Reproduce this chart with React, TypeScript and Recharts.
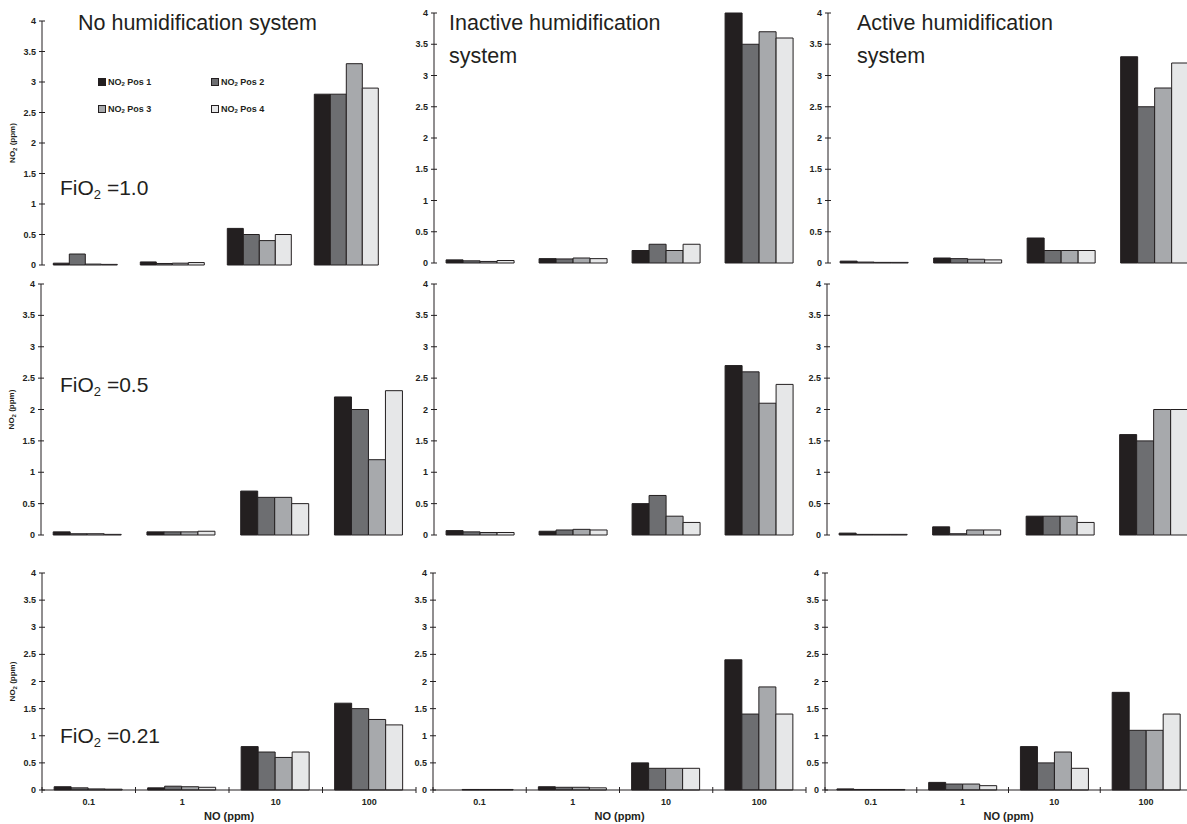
import React from "react";
import { BarChart, Bar, XAxis, YAxis, Legend } from "recharts";

// NO dose categories (x axis) and NO2 tick values (y axis)
const NO_DOSES = ["0.1", "1", "10", "100"];
const Y_TICKS = [0, 0.5, 1, 1.5, 2, 2.5, 3, 3.5, 4];
const SERIES = ["Pos 1", "Pos 2", "Pos 3", "Pos 4"];
const SYSTEMS = ["No humidification system", "Inactive humidification", "Active humidification"];
const FIO2 = ["1.0", "0.5", "0.21"];

// NO2 (ppm) readings, one row per NO dose: [Pos 1, Pos 2, Pos 3, Pos 4]
const FIO2_10_NONE = [[0.03, 0.18, 0.015, 0.01], [0.05, 0.025, 0.03, 0.04], [0.6, 0.5, 0.4, 0.5], [2.8, 2.8, 3.3, 2.9]];
const FIO2_10_INACTIVE = [[0.05, 0.035, 0.025, 0.04], [0.07, 0.065, 0.08, 0.07], [0.2, 0.3, 0.2, 0.3], [4.0, 3.5, 3.7, 3.6]];
const FIO2_10_ACTIVE = [[0.03, 0.015, 0.01, 0.01], [0.08, 0.07, 0.06, 0.05], [0.4, 0.2, 0.2, 0.2], [3.3, 2.5, 2.8, 3.2]];

const FIO2_05_NONE = [[0.05, 0.02, 0.02, 0.01], [0.05, 0.05, 0.05, 0.06], [0.7, 0.6, 0.6, 0.5], [2.2, 2.0, 1.2, 2.3]];
const FIO2_05_INACTIVE = [[0.07, 0.05, 0.04, 0.04], [0.06, 0.08, 0.09, 0.08], [0.5, 0.63, 0.3, 0.2], [2.7, 2.6, 2.1, 2.4]];
const FIO2_05_ACTIVE = [[0.03, 0.01, 0.01, 0.01], [0.13, 0.02, 0.08, 0.08], [0.3, 0.3, 0.3, 0.2], [1.6, 1.5, 2.0, 2.0]];

const FIO2_021_NONE = [[0.06, 0.04, 0.02, 0.015], [0.04, 0.07, 0.06, 0.05], [0.8, 0.7, 0.6, 0.7], [1.6, 1.5, 1.3, 1.2]];
const FIO2_021_INACTIVE = [[0, 0.01, 0.01, 0.01], [0.06, 0.05, 0.05, 0.04], [0.5, 0.4, 0.4, 0.4], [2.4, 1.4, 1.9, 1.4]];
const FIO2_021_ACTIVE = [[0.02, 0.01, 0.01, 0.01], [0.14, 0.11, 0.11, 0.08], [0.8, 0.5, 0.7, 0.4], [1.8, 1.1, 1.1, 1.4]];

const GRID = [
  [FIO2_10_NONE, FIO2_10_INACTIVE, FIO2_10_ACTIVE],
  [FIO2_05_NONE, FIO2_05_INACTIVE, FIO2_05_ACTIVE],
  [FIO2_021_NONE, FIO2_021_INACTIVE, FIO2_021_ACTIVE],
];

const FILLS = ["#231f20", "#6d6e71", "#a7a9ac", "#e6e7e8"];
const INK = "#231f20";
const FONT = '"Liberation Sans", Arial, Helvetica, sans-serif';

// plot area of each panel in page pixels: axis x, y at value 4, y at value 0, plot width
const PANELS = [
  [{ x: 42, y4: 21, y0: 265, w: 348 }, { x: 434, y4: 13, y0: 263, w: 372 }, { x: 828, y4: 13, y0: 263, w: 374 }],
  [{ x: 41, y4: 284, y0: 535, w: 375 }, { x: 434, y4: 284, y0: 535, w: 372 }, { x: 827, y4: 284, y0: 535, w: 374 }],
  [{ x: 42, y4: 573, y0: 790, w: 374 }, { x: 433, y4: 573, y0: 790, w: 373 }, { x: 825, y4: 573, y0: 790, w: 367 }],
];

const YW = 40;
const MT = 8;
const MR = 8;
const MB = 8;
const XH = 40;

const toRows = (vals: number[][]) =>
  NO_DOSES.map((dose, i) => ({ dose, p0: vals[i][0], p1: vals[i][1], p2: vals[i][2], p3: vals[i][3] }));

function YTick(props: any) {
  const { y, payload } = props;
  return (
    <g>
      <line x1={YW - 3} x2={YW + 3} y1={y} y2={y} stroke={INK} strokeWidth={1} />
      <text x={YW - 6} y={y} dy={3} textAnchor="end" fontSize={9} fontWeight="bold" fill={INK} fontFamily={FONT}>
        {payload.value}
      </text>
    </g>
  );
}

function makeXTick(axisY: number, band: number) {
  return (props: any) => {
    const { x, payload, index } = props;
    return (
      <g>
        <line x1={x - band / 2} x2={x - band / 2} y1={axisY - 3} y2={axisY + 3} stroke={INK} />
        {index === NO_DOSES.length - 1 && (
          <line x1={x + band / 2} x2={x + band / 2} y1={axisY - 3} y2={axisY + 3} stroke={INK} />
        )}
        <text x={x} y={axisY + 15} textAnchor="middle" fontSize={9} fontWeight="bold" fill={INK} fontFamily={FONT}>
          {payload.value}
        </text>
      </g>
    );
  };
}

function YLabel(props: any) {
  const { viewBox } = props;
  const cx = viewBox.x + 13;
  const cy = viewBox.y + viewBox.height / 2;
  return (
    <text
      x={cx}
      y={cy}
      transform={`rotate(-90 ${cx} ${cy})`}
      textAnchor="middle"
      fontSize={8}
      fontWeight="bold"
      fill={INK}
      fontFamily={FONT}
    >
      NO<tspan fontSize={6} dy={2}>2</tspan>
      <tspan dy={-2}> (ppm)</tspan>
    </text>
  );
}

function XLabel(props: any) {
  const { viewBox } = props;
  return (
    <text
      x={viewBox.x + viewBox.width / 2}
      y={viewBox.y + 30}
      textAnchor="middle"
      fontSize={11}
      fontWeight="bold"
      fill={INK}
      fontFamily={FONT}
    >
      NO (ppm)
    </text>
  );
}

function LegendBox() {
  return (
    <div
      style={{
        display: "grid",
        gridTemplateColumns: "113px 113px",
        gridAutoRows: "26.7px",
        fontFamily: FONT,
        fontSize: 9,
        fontWeight: "bold",
        color: INK,
      }}
    >
      {SERIES.map((s, i) => (
        <div key={s} style={{ display: "flex", alignItems: "center" }}>
          <span
            style={{
              width: 6,
              height: 6,
              background: FILLS[i],
              border: `1px solid ${INK}`,
              marginRight: 2,
              display: "inline-block",
            }}
          />
          <span>
            NO<sub style={{ fontSize: 6, verticalAlign: "-1px" }}>2</sub> {s}
          </span>
        </div>
      ))}
    </div>
  );
}

function Panel({ r, c }: { r: number; c: number }) {
  const g = PANELS[r][c];
  const showX = r === 2;
  const plotH = g.y0 - g.y4;
  const height = MT + plotH + (showX ? XH : MB);
  const width = YW + g.w + MR;
  const band = g.w / NO_DOSES.length;
  const data = toRows(GRID[r][c]);
  return (
    <div style={{ position: "absolute", left: g.x - YW, top: g.y4 - MT }}>
      <BarChart
        width={width}
        height={height}
        data={data}
        margin={{ top: MT, right: MR, left: 0, bottom: showX ? 0 : MB }}
        barCategoryGap="13%"
        barGap={0}
      >
        <XAxis
          dataKey="dose"
          hide={!showX}
          height={XH}
          axisLine={{ stroke: INK }}
          tickLine={false}
          tick={makeXTick(MT + plotH, band)}
          interval={0}
          label={showX ? <XLabel /> : undefined}
        />
        <YAxis
          width={YW}
          domain={[0, 4]}
          ticks={Y_TICKS}
          interval={0}
          axisLine={{ stroke: INK }}
          tickLine={false}
          tick={<YTick />}
          label={c === 0 ? <YLabel /> : undefined}
        />
        {r === 0 && c === 0 && (
          <Legend
            layout="horizontal"
            verticalAlign="middle"
            align="center"
            content={<LegendBox />}
            wrapperStyle={{ left: 98 - (g.x - YW), top: 95 - (g.y4 - MT) - 13.35 - 13, width: 230 }}
          />
        )}
        {SERIES.map((s, i) => (
          <Bar
            key={s}
            dataKey={`p${i}`}
            name={`NO2 ${s}`}
            fill={FILLS[i]}
            stroke={INK}
            strokeWidth={1}
            isAnimationActive={false}
          />
        ))}
      </BarChart>
    </div>
  );
}

const TITLE_POS = [{ x: 78 }, { x: 449 }, { x: 857 }];
const FIO2_POS = [{ y: 195 }, { y: 392 }, { y: 743 }];

export default function App() {
  return (
    <div
      style={{
        position: "absolute",
        left: 0,
        top: 0,
        width: 1187,
        height: 824,
        overflow: "hidden",
        background: "#fff",
      }}
    >
      {PANELS.map((row, r) => row.map((_, c) => <Panel key={`${r}-${c}`} r={r} c={c} />))}
      <svg
        width={1187}
        height={824}
        style={{ position: "absolute", left: 0, top: 0, pointerEvents: "none" }}
      >
        {SYSTEMS.map((t, i) => (
          <text key={t} x={TITLE_POS[i].x} y={30} fontSize={21.5} fill={INK} fontFamily={FONT}>
            {t}
          </text>
        ))}
        {[1, 2].map((i) => (
          <text key={`sys${i}`} x={TITLE_POS[i].x} y={63} fontSize={21.5} fill={INK} fontFamily={FONT}>
            system
          </text>
        ))}
        {FIO2.map((f, i) => (
          <text key={f} x={60} y={FIO2_POS[i].y} fontSize={21} fill={INK} fontFamily={FONT}>
            FiO<tspan fontSize={13} dy={4}>2</tspan>
            <tspan dy={-4}> ={f}</tspan>
          </text>
        ))}
      </svg>
    </div>
  );
}
